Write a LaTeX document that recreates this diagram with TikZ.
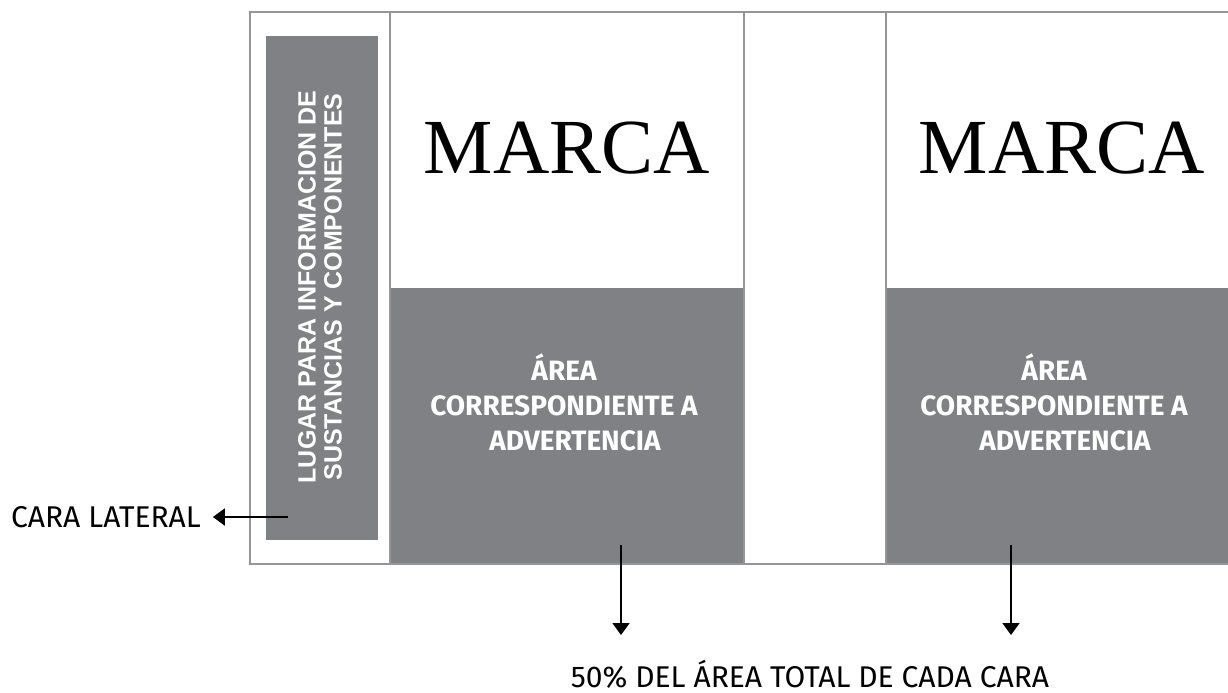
\documentclass[tikz,border=0pt]{standalone}
\usepackage{fontspec}
\setmainfont{Fira Sans}
\newfontfamily\marcafont{Liberation Serif}
\newfontfamily\ladofont{Liberation Sans}
\usetikzlibrary{arrows.meta}
\definecolor{panelgray}{RGB}{128,129,133}
\definecolor{edgegray}{RGB}{150,150,150}

\begin{document}
\begin{tikzpicture}[x=0.5pt, y=-0.5pt,
  edge/.style={draw=edgegray, line width=0.6pt},
  panel/.style={fill=panelgray},
  pointer/.style={line width=1pt, -{Triangle[length=6pt, width=8.5pt]}},
  marca/.style={font=\marcafont\fontsize{39}{39}\selectfont},
  aviso/.style={text=white, align=center, font=\bfseries\fontsize{14}{17.5}\selectfont}]

\useasboundingbox (0,0) rectangle (1228,692);

% paneles de advertencia
\fill[panel] (390,288) rectangle (744,564);
\fill[panel] (886,288) rectangle (1228,564);
\fill[panel] (266,36) rectangle (378,540);

% contorno del envase
\draw[edge] (1228,12) -- (250,12) -- (250,564) -- (1228,564);
\draw[edge] (390,12) -- (390,564);
\draw[edge] (744,12) -- (744,564);
\draw[edge] (886,12) -- (886,564);

% caras frontales
\node[marca] (marca1) at (567,148) {MARCA};
\node[marca] (marca2) at (1062,148) {MARCA};
\node[aviso] (aviso1) at (564,402) {ÁREA\\CORRESPONDIENTE A\\\hspace*{11pt}ADVERTENCIA};
\node[aviso] (aviso2) at (1054,402) {ÁREA\\CORRESPONDIENTE A\\\hspace*{11pt}ADVERTENCIA};

% cara lateral
\node[rotate=90, text=white, align=center,
      font=\ladofont\bfseries\fontsize{12.5}{13}\selectfont] (lado) at (320,287)
  {LUGAR PARA INFORMACION DE\\SUSTANCIAS Y COMPONENTES};

\node[anchor=west, font=\fontsize{15}{15}\selectfont] (lateral) at (4,517) {CARA LATERAL};
\coordinate (ladoarrow) at (288,517);
\draw[pointer] (ladoarrow) -- ([xshift=2.5pt]lateral.east);

\node[anchor=base, inner sep=0pt, font=\fontsize{15}{15}\selectfont] (total) at (810,687) {50\% DEL ÁREA TOTAL DE CADA CARA};
\coordinate (from1) at (621,545);
\coordinate (to1) at (621,635);
\coordinate (from2) at (1011,545);
\coordinate (to2) at (1011,635);
\draw[pointer] (from1) -- (to1);
\draw[pointer] (from2) -- (to2);

\end{tikzpicture}
\end{document}
